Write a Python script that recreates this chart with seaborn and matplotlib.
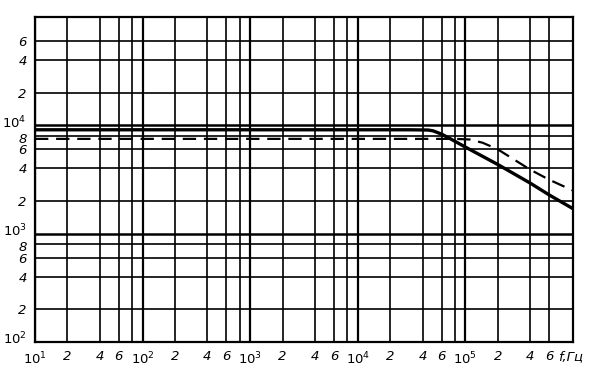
import matplotlib
matplotlib.use("Agg")
import matplotlib.pyplot as plt
import matplotlib.transforms as mtransforms
import seaborn as sns
import pandas as pd
import numpy as np

# ---- data ----
freq_solid = [10, 3e4, 4.5e4, 5e4, 6e4, 7.1e4, 1e5, 2e5, 4e5, 6e5, 1e6]
val_solid = [9.1e3, 9.1e3, 9.05e3, 8.9e3, 8.3e3, 7.6e3, 6.3e3, 4.35e3, 2.93e3, 2.28e3, 1.7e3]
freq_dash = [10, 8e4, 1.1e5, 1.45e5, 2e5, 4e5, 6e5, 1e6]
val_dash = [7.5e3, 7.5e3, 7.4e3, 6.9e3, 6.0e3, 3.9e3, 3.15e3, 2.5e3]

x_ticks = [10, 2e1, 4e1, 6e1, 8e1, 1e2, 2e2, 4e2, 6e2, 8e2, 1e3, 2e3, 4e3, 6e3, 8e3,
           1e4, 2e4, 4e4, 6e4, 8e4, 1e5, 2e5, 4e5, 6e5]
x_labels = ["$10^1$", "2", "4", "6", "", "$10^2$", "2", "4", "6", "", "$10^3$", "2", "4", "6", "",
            "$10^4$", "2", "4", "6", "", "$10^5$", "2", "4", "6"]
y_ticks = [1e2, 2e2, 4e2, 6e2, 8e2, 1e3, 2e3, 4e3, 6e3, 8e3, 1e4, 2e4, 4e4, 6e4]
y_labels = ["$10^2$", "2", "4", "6", "8", "$10^3$", "2", "4", "6", "8", "$10^4$", "2", "4", "6"]
x_unit = "f,Гц"

df = pd.concat([
    pd.DataFrame({"f": freq_solid, "v": val_solid, "s": "solid"}),
    pd.DataFrame({"f": freq_dash, "v": val_dash, "s": "dash"}),
])

sns.set_style("white")
plt.rcParams["font.family"] = ["DejaVu Sans"]
plt.rcParams["mathtext.default"] = "it"

fig = plt.figure(figsize=(6.07, 3.74), dpi=100)
ax = fig.add_axes([35 / 607, 1 - 342 / 374, (573 - 35) / 607, (342 - 17) / 374])
ax.set_xscale("log")
ax.set_yscale("log")
ax.set_xlim(10, 1e6)
ax.set_ylim(1e2, 1e5)

# grid lines
for xv in x_ticks:
    lw = 1.6 if np.isclose(np.log10(xv) % 1, 0) else 1.2
    ax.axvline(xv, color="black", lw=lw, zorder=1)
for yv in y_ticks:
    lw = 1.8 if np.isclose(np.log10(yv) % 1, 0) else 1.2
    ax.axhline(yv, color="black", lw=lw, zorder=1)

sns.lineplot(data=df[df.s == "solid"], x="f", y="v", ax=ax, color="black", lw=2.4,
             legend=False, zorder=3)
sns.lineplot(data=df[df.s == "dash"], x="f", y="v", ax=ax, color="black", lw=1.6,
             legend=False, zorder=3, dashes=False, linestyle=(0, (6, 3.5)))

ax.set_xticks(x_ticks)
ax.set_xticklabels(x_labels)
ax.set_xticks([], minor=True)
ax.set_yticks(y_ticks)
ax.set_yticklabels(y_labels)
ax.set_yticks([], minor=True)
ax.tick_params(axis="both", length=0, labelsize=9.5, colors="black")
ax.tick_params(axis="x", pad=6)
ax.tick_params(axis="y", pad=6)
for lab in ax.get_xticklabels() + ax.get_yticklabels():
    lab.set_style("italic")
# nudge decade labels up and "8" labels down a little, as in the reference
for lab in ax.get_yticklabels():
    t = lab.get_text()
    if "10" in t:
        dy = 3
    elif t == "8":
        dy = -1.5
    else:
        dy = 0
    if dy:
        lab.set_transform(lab.get_transform() +
                          mtransforms.ScaledTranslation(0, dy / 72, fig.dpi_scale_trans))
ax.set_xlabel("")
ax.set_ylabel("")
for sp in ax.spines.values():
    sp.set_color("black")
    sp.set_linewidth(1.6)

ax.text(0.972, -0.025, x_unit, transform=ax.transAxes, ha="left", va="top",
        fontsize=9.5, style="italic", color="black")

fig.savefig("out.png", dpi=100)
